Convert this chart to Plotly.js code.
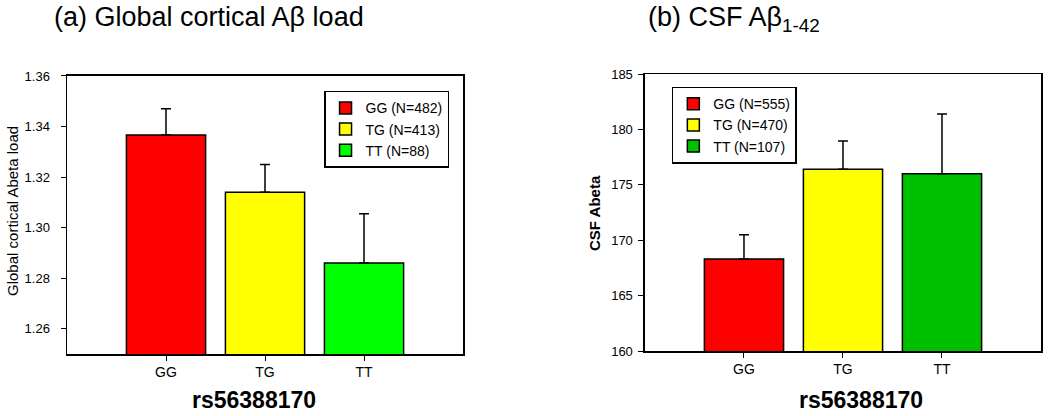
<!DOCTYPE html>
<html>
<head>
<meta charset="utf-8">
<script src="https://cdn.plot.ly/plotly-3.0.1.min.js"></script>
<style>html,body{margin:0;padding:0;background:#fff;}#chart{width:1050px;height:416px;}</style>
</head>
<body>
<div id="chart"></div>
<script>
// ---- data ----
const genotypes = ["GG", "TG", "TT"];
// (a) Global cortical Abeta load
const loadLabels = ["GG (N=482)", "TG (N=413)", "TT (N=88)"];
const loadMeans = [1.3366, 1.3140, 1.2860];
const loadErr = [0.0104, 0.0110, 0.0195];
const loadColors = ["#ff0000", "#ffff00", "#00ff00"];
// (b) CSF Abeta 1-42
const csfLabels = ["GG (N=555)", "TG (N=470)", "TT (N=107)"];
const csfMeans = [168.3, 176.4, 176.0];
const csfErr = [2.2, 2.55, 5.4];
const csfColors = ["#ff0000", "#ffff00", "#00c000"];

const FONT = "Liberation Sans, Arial, sans-serif";
const traces = [];
genotypes.forEach((g, i) => {
  traces.push({
    type: "bar", x: [g], y: [loadMeans[i]], name: loadLabels[i],
    xaxis: "x", yaxis: "y", legend: "legend", width: 0.8,
    marker: {color: loadColors[i], line: {color: "#000", width: 1.5}},
    error_y: {type: "data", symmetric: false, array: [loadErr[i]], arrayminus: [0], color: "#000", thickness: 1.5, width: 5},
    hoverinfo: "skip"
  });
});
genotypes.forEach((g, i) => {
  traces.push({
    type: "bar", x: [g], y: [csfMeans[i]], name: csfLabels[i],
    xaxis: "x2", yaxis: "y2", legend: "legend2", width: 0.8,
    marker: {color: csfColors[i], line: {color: "#000", width: 1.5}},
    error_y: {type: "data", symmetric: false, array: [csfErr[i]], arrayminus: [0], color: "#000", thickness: 1.5, width: 5},
    hoverinfo: "skip"
  });
});

const xCommon = {
  type: "category", categoryorder: "array", categoryarray: genotypes,
  range: [-1, 3], showline: true, linecolor: "#000", linewidth: 1.5, mirror: true,
  ticks: "outside", ticklen: 5, tickwidth: 1, tickcolor: "#000",
  showgrid: false, zeroline: false, tickfont: {family: FONT, size: 14, color: "#000"}
};
const yCommon = {
  showline: true, linecolor: "#000", linewidth: 1.5, mirror: true,
  ticks: "outside", ticklen: 5, tickwidth: 1, tickcolor: "#000",
  showgrid: false, zeroline: false, tickfont: {family: FONT, size: 13, color: "#000"}
};
const legCommon = {
  bgcolor: "#fff", bordercolor: "#000", borderwidth: 1.5,
  font: {family: FONT, size: 14, color: "#000"}, xanchor: "left", yanchor: "top",
  tracegroupgap: 0, itemclick: false, itemdoubleclick: false
};

const layout = {
  width: 1050, height: 416,
  margin: {l: 67, r: 9, t: 74, b: 62},
  paper_bgcolor: "#fff", plot_bgcolor: "#fff",
  barmode: "overlay", showlegend: true,
  font: {family: FONT, color: "#000"},
  xaxis: Object.assign({}, xCommon, {domain: [0, 0.4066], anchor: "y"}),
  yaxis: Object.assign({}, yCommon, {domain: [0, 0.993], anchor: "x", range: [1.25, 1.36], tick0: 1.26, dtick: 0.02, tickformat: ".2f", ticklabelstandoff: 8}),
  xaxis2: Object.assign({}, xCommon, {domain: [0.5934, 1], anchor: "y2"}),
  yaxis2: Object.assign({}, yCommon, {domain: [0.0107, 1], anchor: "x2", range: [160, 185], dtick: 5, ticklabelstandoff: 3}),
  legend: Object.assign({}, legCommon, {x: 0.2639, y: 0.94}),
  legend2: Object.assign({}, legCommon, {x: 0.621, y: 0.955}),
  annotations: [
    {text: "(a) Global cortical Aβ load", xref: "paper", yref: "paper", x: -0.0154, y: 1.2036, xanchor: "left", yanchor: "middle", showarrow: false, font: {family: FONT, size: 27, color: "#000"}},
    {text: "(b) CSF Aβ<sub>1-42</sub>", xref: "paper", yref: "paper", x: 0.5945, y: 1.195, xanchor: "left", yanchor: "middle", showarrow: false, font: {family: FONT, size: 27, color: "#000"}},
    {text: "<b>rs56388170</b>", xref: "paper", yref: "paper", x: 0.1925, y: -0.166, xanchor: "center", yanchor: "middle", showarrow: false, font: {family: FONT, size: 23, color: "#000"}},
    {text: "<b>rs56388170</b>", xref: "paper", yref: "paper", x: 0.8152, y: -0.166, xanchor: "center", yanchor: "middle", showarrow: false, font: {family: FONT, size: 23, color: "#000"}},
    {text: "Global cortical Abeta load", xref: "paper", yref: "paper", x: -0.0565, y: 0.5107, xanchor: "center", yanchor: "middle", textangle: -90, showarrow: false, font: {family: FONT, size: 15, color: "#000"}},
    {text: "<b>CSF Abeta</b>", xref: "paper", yref: "paper", x: 0.5421, y: 0.5036, xanchor: "center", yanchor: "middle", textangle: -90, showarrow: false, font: {family: FONT, size: 15, color: "#000"}}
  ]
};

Plotly.newPlot("chart", traces, layout, {displayModeBar: false, staticPlot: true});
</script>
</body>
</html>
